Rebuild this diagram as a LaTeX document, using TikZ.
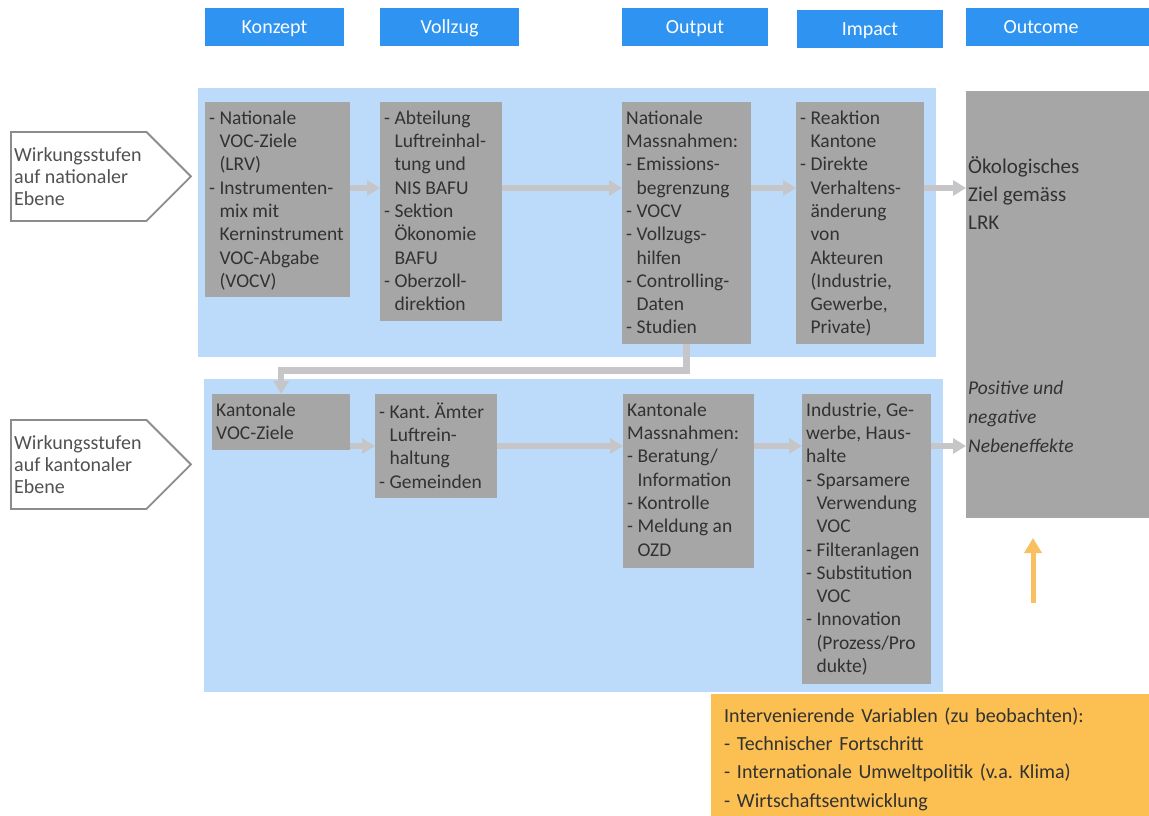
\documentclass[tikz,border=0pt]{standalone}
\usepackage{fontspec}
\setmainfont{Carlito}
\usepackage{tikz}
\usetikzlibrary{arrows.meta,shapes.symbols}
\usepackage{xcolor}
\definecolor{headBlue}{RGB}{46,147,241}
\definecolor{panelBlue}{RGB}{188,219,250}
\definecolor{boxGray}{RGB}{166,166,166}
\definecolor{arrowGray}{RGB}{198,198,200}
\definecolor{frameGray}{RGB}{140,140,140}
\definecolor{textGray}{RGB}{50,50,50}
\definecolor{varOrange}{RGB}{251,191,82}
\definecolor{varArrow}{RGB}{248,192,96}

\newcommand{\ind}{\hphantom{- }}
\frenchspacing

\begin{document}
\begin{tikzpicture}[x=1pt,y=-1pt,
    head/.style={fill=headBlue,text=white,minimum width=139,minimum height=38,inner sep=0,text height=14pt,text depth=1pt,font=\fontsize{20}{22}\selectfont},
    gbox/.style={fill=boxGray,anchor=north west,inner sep=0},
    btext/.style={anchor=north west,align=left,text=textGray,inner xsep=4pt,inner ysep=8.5pt,font=\fontsize{19.5}{23.3}\selectfont},
    flow/.style={draw=arrowGray,line width=5.5pt,-{Triangle[length=13pt,width=15pt]}},
    level/.style={signal,signal to=east,signal pointer angle=90,draw=frameGray,line width=1.8pt,fill=white,minimum width=180,minimum height=89,anchor=north west,inner sep=0},
    ltext/.style={anchor=west,align=left,text=textGray!85,inner sep=0,font=\fontsize{20}{22}\selectfont}]
    \useasboundingbox (0,0) rectangle (1149,816);

    % headers
    \node[head] (hKon) at (274.5,27) {Konzept};
    \node[head] (hVol) at (449.5,27) {Vollzug};
    \node[head,minimum width=146] (hOut) at (695,27) {Output};
    \node[head,minimum width=146] (hImp) at (870,29) {Impact};
    \node[head,minimum width=150] (hOcm) at (1041,27) {Outcome};
    \fill[headBlue] (hOcm.north east) rectangle (1149,46);

    % panels
    \fill[panelBlue] (198,88) rectangle (936,357);
    \fill[panelBlue] (204,379) rectangle (943,692);

    % levels
    \node[level] (lvNat) at (10,131) {};
    \node[ltext] (lvNatTxt) at ([xshift=4]lvNat.west) {Wirkungsstufen\\auf nationaler\\Ebene};
    \node[level] (lvKan) at (10,419) {};
    \node[ltext] (lvKanTxt) at ([xshift=4]lvKan.west) {Wirkungsstufen\\auf kantonaler\\Ebene};

    % national row
    \node[gbox,minimum width=145,minimum height=195] (nt1) at (205,102) {};
    \node[btext] (nt1Txt) at (nt1.north west) {- Nationale\\\ind VOC-Ziele\\\ind (LRV)\\- Instrumenten-\\\ind mix mit\\\ind Kerninstrument\\\ind VOC-Abgabe\\\ind (VOCV)};
    \node[gbox,minimum width=122,minimum height=219] (nt2) at (380,102) {};
    \node[btext] (nt2Txt) at (nt2.north west) {- Abteilung\\\ind Luftreinhal-\\\ind tung und\\\ind NIS BAFU\\- Sektion\\\ind Ökonomie\\\ind BAFU\\- Oberzoll-\\\ind direktion};
    \node[gbox,minimum width=129,minimum height=242] (nt3) at (622,102) {};
    \node[btext] (nt3Txt) at (nt3.north west) {Nationale\\Massnahmen:\\- Emissions-\\\ind begrenzung\\- VOCV\\- Vollzugs-\\\ind hilfen\\- Controlling-\\\ind Daten\\- Studien};
    \node[gbox,minimum width=128,minimum height=242] (nt4) at (796,102) {};
    \node[btext] (nt4Txt) at (nt4.north west) {- Reaktion\\\ind Kantone\\- Direkte\\\ind Verhaltens-\\\ind änderung\\\ind von\\\ind Akteuren\\\ind (Industrie,\\\ind Gewerbe,\\\ind Private)};

    % outcome
    \node[gbox,minimum width=183,minimum height=427] (nout) at (966,91) {};
    \node[anchor=north west,align=left,text=textGray,inner sep=2pt,font=\fontsize{21}{28}\selectfont] (noutEco) at (966,154) {Ökologisches\\Ziel gemäss\\LRK};
    \node[anchor=north west,align=left,text=textGray,inner sep=2pt,font=\itshape\fontsize{19.5}{29}\selectfont] (noutSide) at (966,379) {Positive und\\negative\\Nebeneffekte};

    % cantonal row
    \node[gbox,minimum width=138,minimum height=56] (nb1) at (212,394) {};
    \node[btext] (nb1Txt) at (nb1.north west) {Kantonale\\VOC-Ziele};
    \node[gbox,minimum width=122,minimum height=104] (nb2) at (375,394) {};
    \node[btext] (nb2Txt) at (nb2.north west) {- Kant. Ämter\\\ind Luftrein-\\\ind haltung\\- Gemeinden};
    \node[gbox,minimum width=131,minimum height=174] (nb3) at (623,394) {};
    \node[btext] (nb3Txt) at (nb3.north west) {Kantonale\\Massnahmen:\\- Beratung/\\\ind Information\\- Kontrolle\\- Meldung an\\\ind OZD};
    \node[gbox,minimum width=129,minimum height=290] (nb4) at (802,394) {};
    \node[btext] (nb4Txt) at (nb4.north west) {Industrie, Ge-\\werbe, Haus-\\halte\\- Sparsamere\\\ind Verwendung\\\ind VOC\\- Filteranlagen\\- Substitution\\\ind VOC\\- Innovation\\\ind (Prozess/Pro\\\ind dukte)};

    % flows
    \coordinate (rowNat) at (0,188);
    \coordinate (rowKan) at (0,446);
    \draw[flow] (nt1.east |- rowNat) -- (nt2.west |- rowNat);
    \draw[flow] (nt2.east |- rowNat) -- (nt3.west |- rowNat);
    \draw[flow] (nt3.east |- rowNat) -- (nt4.west |- rowNat);
    \draw[flow] (nt4.east |- rowNat) -- (nout.west |- rowNat);
    \draw[flow,line width=6.5pt] (nt3.south) -- ++(0,26) -| (nb1.north);
    \draw[flow] (nb1.east |- rowKan) -- (nb2.west |- rowKan);
    \draw[flow] (nb2.east |- rowKan) -- (nb3.west |- rowKan);
    \draw[flow] (nb3.east |- rowKan) -- (nb4.west |- rowKan);
    \draw[flow] (nb4.east |- rowKan) -- (nout.west |- rowKan);

    % intervening variables
    \node[anchor=north west,fill=varOrange,text width=412,inner xsep=13pt,inner ysep=0,minimum height=130,align=left,text=textGray,font=\fontsize{20}{28.3}\selectfont] (nVar) at (711,694) {Intervenierende Variablen (zu beobachten):\\- Technischer Fortschritt\\- Internationale Umweltpolitik (v.a. Klima)\\- Wirtschaftsentwicklung};
    \coordinate (varBase) at (1033,603);
    \coordinate (varTip) at (1033,538);
    \draw[draw=varArrow,line width=5pt,-{Triangle[length=15pt,width=17pt]}] (varBase) -- (varTip);
\end{tikzpicture}
\end{document}
